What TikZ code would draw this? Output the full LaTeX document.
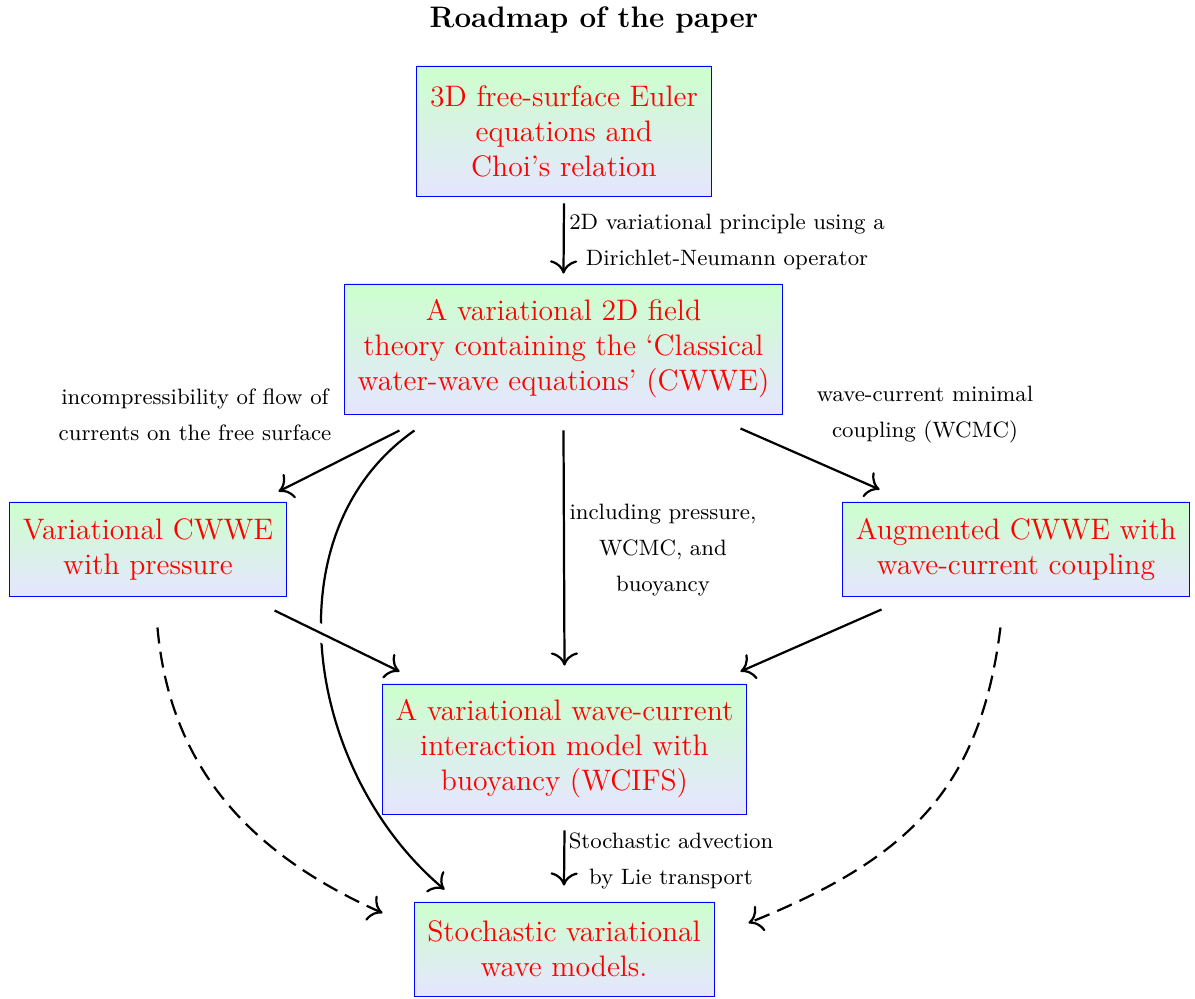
\documentclass[tikz,border=0pt]{standalone}
\usetikzlibrary{arrows.meta,positioning,calc}
\begin{document}
\begin{tikzpicture}[x=0.405pt,y=-0.405pt,
  box/.style={draw=blue, line width=0.4pt, top color=green!20, bottom color=blue!10,
    text=red, font={\large\setlength\baselineskip{14.2pt}}, align=center, inner sep=0pt},
  lbl/.style={font={\small\setlength\baselineskip{14.6pt}}, align=center, inner sep=0pt},
  arr/.style={line width=0.9pt, -{Computer Modern Rightarrow[length=5.3pt,width=11pt]}},
  dsh/.style={arr, dash pattern=on 6.5pt off 3.4pt},
  over/.style={preaction={draw=white, line width=7pt, -}}]
\useasboundingbox (0,0) rectangle (1195,999);
\node[font=\large\bfseries] (title) at (594,20) {Roadmap of the paper};
\node[box, minimum width=119.1pt, minimum height=52.65pt] (b1) at (564,131)
  {3D free-surface Euler\\equations and\\Choi's relation};
\node[box, minimum width=177pt, minimum height=52.65pt] (b2) at (563.5,349)
  {A variational 2D field\\theory containing the `Classical\\water-wave equations' (CWWE)};
\node[box, minimum width=111.8pt, minimum height=38.07pt] (b3) at (148,549)
  {Variational CWWE\\with pressure};
\node[box, minimum width=140.9pt, minimum height=38.07pt] (b4) at (1016,549)
  {Augmented CWWE with\\wave-current coupling};
\node[box, minimum width=147.8pt, minimum height=52.65pt] (b5) at (564.5,749)
  {A variational wave-current\\interaction model with\\buoyancy (WCIFS)};
\node[box, minimum width=121.5pt, minimum height=38.07pt] (b6) at (564,949)
  {Stochastic variational\\wave models.};
\node[lbl] (l1) at (727,242) {2D variational principle using a\\Dirichlet-Neumann operator};
\node[lbl] (l2) at (195,415) {incompressibility of flow of\\currents on the free surface};
\node[lbl] (l3) at (925,415) {wave-current minimal\\coupling (WCMC)};
\node[lbl] (l4) at (663,550) {including pressure,\\WCMC, and\\buoyancy};
\node[lbl] (l5) at (671,861) {Stochastic advection\\by Lie transport};
% connectors
\draw[arr] ([shift={(0,7)}]b1.south) -- ([shift={(0,-10)}]b2.north);
\draw[arr] ([shift={(0,16)}]b2.south) -- ([shift={(0,-18)}]b5.north);
\draw[arr] ([shift={(0,16)}]b5.south) -- ([shift={(0,-16)}]b6.north);
\draw[arr] ([shift={(55,16)}]b2.south west) -- ([shift={(-8,-10)}]b3.north east);
\draw[arr] ([shift={(-42,14)}]b2.south east) -- ([shift={(38,-12)}]b4.north west);
\draw[arr] ([shift={(70,16)}]b2.south west) to[out=215,in=140] ([shift={(31,-12)}]b6.north west);
\draw[arr, over] ([shift={(-12,14)}]b3.south east) -- ([shift={(18,-12)}]b5.north west);
\draw[arr] ([shift={(40,13)}]b4.south west) -- ([shift={(-7,-12)}]b5.north east);
\draw[dsh] ([shift={(148,31)}]b3.south west) to[out=-85,in=156] ([shift={(-31,-36)}]b6.west);
\draw[dsh] ([shift={(-190,31)}]b4.south east) to[out=-97,in=22,looseness=1.1] ([shift={(34,-26)}]b6.east);
\end{tikzpicture}
\end{document}
